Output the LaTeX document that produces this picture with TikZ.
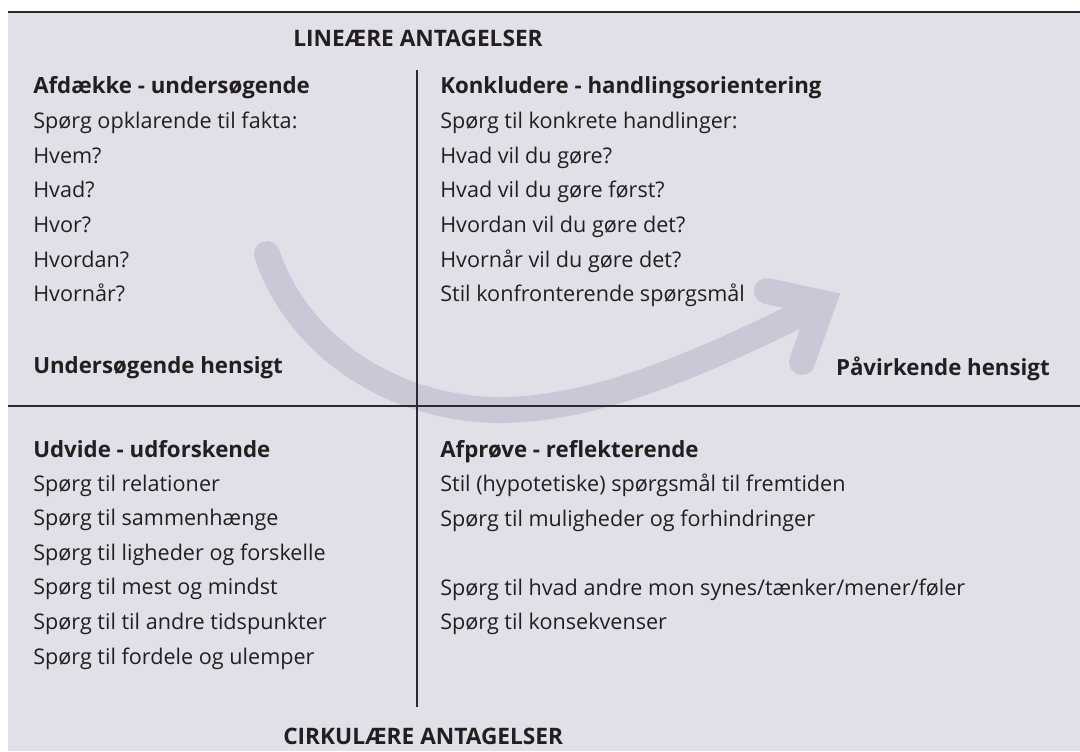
\documentclass[tikz,border=0pt]{standalone}
\usepackage{fontspec}
\setmainfont{Open Sans}
\definecolor{bg}{HTML}{E1E0E8}
\definecolor{arr}{HTML}{C9C8D6}
\definecolor{ink}{HTML}{231F20}
\definecolor{rulec}{HTML}{2B2B2E}
\begin{document}
\begin{tikzpicture}[x=0.75pt,y=-0.75pt,
  txt/.style={anchor=base west, inner sep=0pt, text=ink, font=\fontsize{16.2}{19}\selectfont},
  hdr/.style={txt, font=\fontsize{16.7}{19}\selectfont\bfseries},
  captitle/.style={anchor=base west, inner sep=0pt, text=ink, font=\fontsize{17}{19}\selectfont\bfseries},
  rulestyle/.style={draw=rulec, line width=1.1pt},
  arrowband/.style={draw=arr, line width=19.5pt, line cap=round, line join=miter}]
\useasboundingbox (0,0) rectangle (1080,751);
\fill[bg] (8,12) rectangle (1080,751);
% arrow
\coordinate (s) at (267,254);
\coordinate (m) at (500,410);
\coordinate (p) at (823,303);
\coordinate (a) at (767,291);
\coordinate (b) at (802,362);
\draw[arrowband] (s) .. controls (300,352) and (400,410) .. (m)
  .. controls (600,410) and (712,358) .. (p);
\draw[arrowband] (a) -- (p) -- (b);
% rules
\coordinate (tl) at (8,12); \coordinate (tr) at (1080,12);
\coordinate (ml) at (8,406); \coordinate (mr) at (1080,406);
\coordinate (vt) at (417,70); \coordinate (vb) at (417,707);
\draw[rulestyle] (tl) -- (tr);
\draw[rulestyle] (ml) -- (mr);
\draw[rulestyle] (vt) -- (vb);
% titles
\node[captitle] (lin) at (293,46) {LINEÆRE ANTAGELSER};
\node[captitle] (cir) at (283,744) {CIRKULÆRE ANTAGELSER};
% top left
\node[hdr] (tl0) at (33,93) {Afdække - undersøgende};
\node[txt] (tl1) at (33,128) {Spørg opklarende til fakta:};
\node[txt] (tl2) at (33,163) {Hvem?};
\node[txt] (tl3) at (33,197) {Hvad?};
\node[txt] (tl4) at (33,232) {Hvor?};
\node[txt] (tl5) at (33,267) {Hvordan?};
\node[txt] (tl6) at (33,301) {Hvornår?};
\node[hdr] (tl7) at (33,373) {Undersøgende hensigt};
% top right
\node[hdr] (tr0) at (440,93) {Konkludere - handlingsorientering};
\node[txt] (tr1) at (440,128) {Spørg til konkrete handlinger:};
\node[txt] (tr2) at (440,163) {Hvad vil du gøre?};
\node[txt] (tr3) at (440,197) {Hvad vil du gøre først?};
\node[txt] (tr4) at (440,232) {Hvordan vil du gøre det?};
\node[txt] (tr5) at (440,267) {Hvornår vil du gøre det?};
\node[txt] (tr6) at (440,301) {Stil konfronterende spørgsmål};
\node[hdr, anchor=base east] (tr7) at (1050,375) {Påvirkende hensigt};
% bottom left
\node[hdr] (bl0) at (33,457) {Udvide - udforskende};
\node[txt] (bl1) at (33,491) {Spørg til relationer};
\node[txt] (bl2) at (33,525) {Spørg til sammenhænge};
\node[txt] (bl3) at (33,560) {Spørg til ligheder og forskelle};
\node[txt] (bl4) at (33,594) {Spørg til mest og mindst};
\node[txt] (bl5) at (33,629) {Spørg til til andre tidspunkter};
\node[txt] (bl6) at (33,664) {Spørg til fordele og ulemper};
% bottom right
\node[hdr] (br0) at (440,457) {Afprøve - reflekterende};
\node[txt] (br1) at (440,491) {Stil (hypotetiske) spørgsmål til fremtiden};
\node[txt] (br2) at (440,526) {Spørg til muligheder og forhindringer};
\node[txt] (br3) at (440,595) {Spørg til hvad andre mon synes/tænker/mener/føler};
\node[txt] (br4) at (440,629) {Spørg til konsekvenser};
\end{tikzpicture}
\end{document}
